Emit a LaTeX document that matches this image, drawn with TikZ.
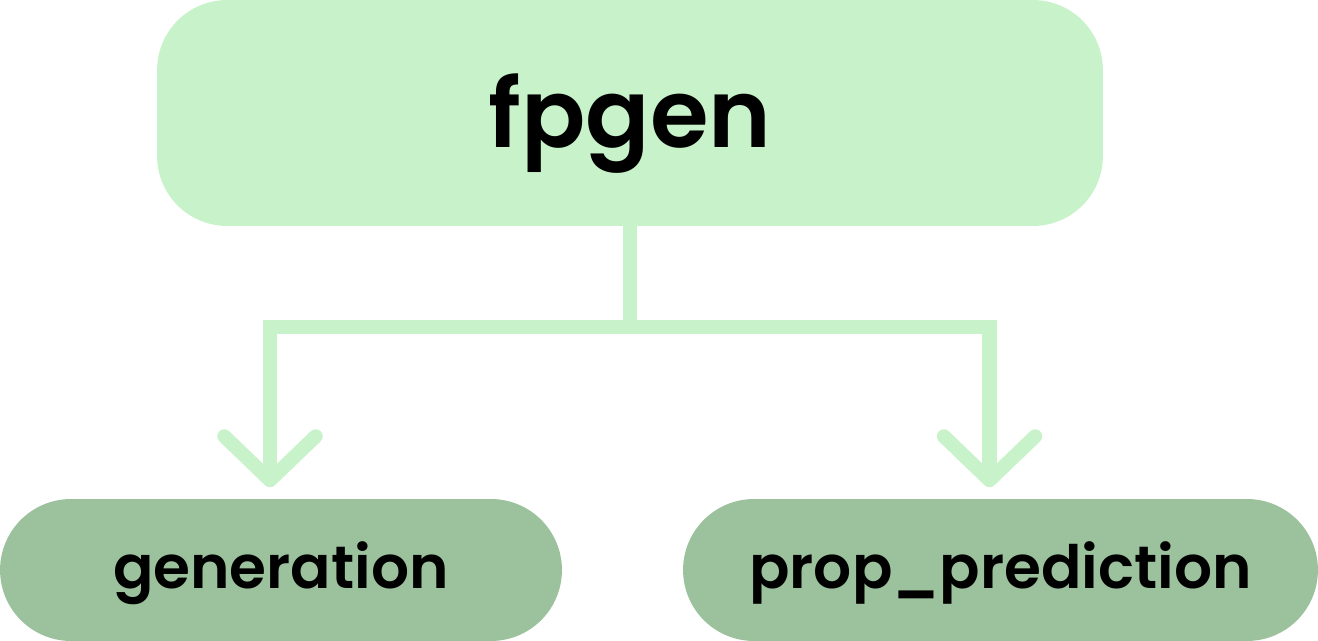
\documentclass[tikz,border=0pt]{standalone}
\usepackage{fontspec}
\setmainfont{Poppins}[BoldFont={Poppins SemiBold}]
\usepackage{tikz}
\usetikzlibrary{arrows.meta}

\definecolor{topgreen}{HTML}{C8F3CA}
\definecolor{subgreen}{HTML}{9CC19D}

\tikzset{
  rootbox/.style={fill=topgreen, rounded corners=1.4cm, minimum width=18.92cm, minimum height=4.52cm, inner sep=0pt},
  leafbox/.style={fill=subgreen, rounded corners=1.42cm, minimum height=2.84cm, inner sep=0pt},
  roottext/.style={font=\fontsize{54}{54}\selectfont\bfseries},
  leaftext/.style={font=\fontsize{34}{34}\selectfont\bfseries},
  link/.style={draw=topgreen, line width=8pt, line join=miter, shorten >=6.5pt,
    -{Straight Barb[length=25pt,width=52pt,line cap=round,line join=round]}}
}

\begin{document}
\begin{tikzpicture}[x=0.02cm, y=-0.02cm]
\useasboundingbox (0,0) rectangle (1318,641);
\node [rootbox] (root) at (630,113) {};
\node [leafbox, minimum width=11.24cm] (gen) at (281,570) {};
\node [leafbox, minimum width=12.7cm] (prop) at (1000.5,570) {};
% labels, set a little below the box centres
\node [roottext] (rootlabel) at ([yshift=-0.2cm]root.center) {fpgen};
\node [leaftext] (genlabel) at ([yshift=-0.06cm]gen.center) {generation};
\node [leaftext] (proplabel) at ([yshift=-0.06cm]prop.center) {prop\_prediction};
\coordinate (split) at (630,327);
\draw [link] (root.south) -- (split) -| ([xshift=-11*0.02cm]gen.north);
\draw [link] (split) -| ([xshift=-11*0.02cm]prop.north);
\end{tikzpicture}
\end{document}
